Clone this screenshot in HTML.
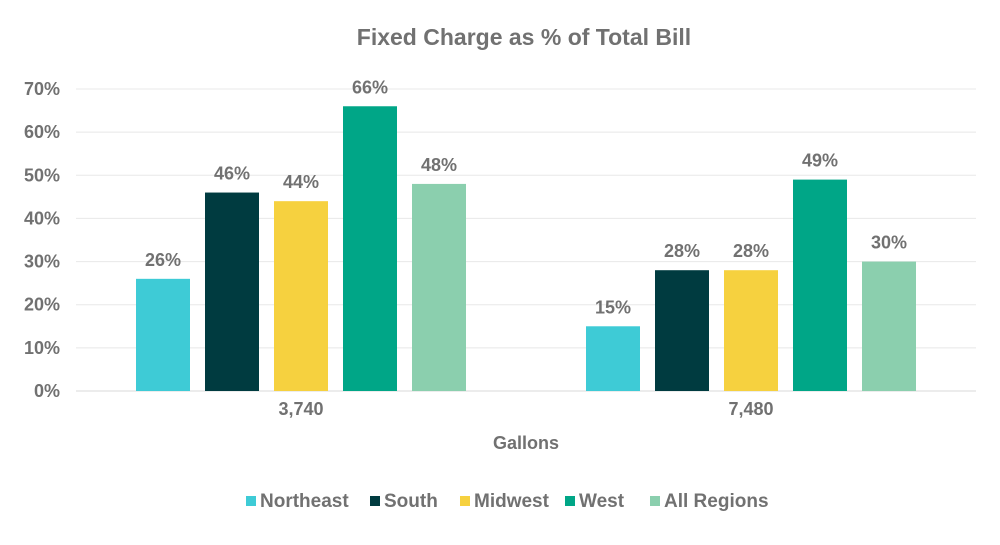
<!DOCTYPE html>
<html><head><meta charset="utf-8"><style>
body{margin:0;background:#fff;}
svg text{font-family:"Liberation Sans",Arial,sans-serif;font-weight:bold;fill:#717171;}
</style></head><body>
<svg id="chart" width="1000" height="540" xmlns="http://www.w3.org/2000/svg">
<text x="524" y="45" font-size="23" text-anchor="middle">Fixed Charge as % of Total Bill</text>
<g id="grid"></g><g id="bars"></g><g id="labels"></g>
<text x="526" y="449" font-size="18" text-anchor="middle">Gallons</text>
<g id="legend"></g>
</svg>
<script>
const categories=["3,740","7,480"];
const seriesNames=["Northeast","South","Midwest","West","All Regions"];
const northeast=[26,15];
const south=[46,28];
const midwest=[44,28];
const west=[66,49];
const allRegions=[48,30];
const yTicks=[0,10,20,30,40,50,60,70];
const series=[northeast,south,midwest,west,allRegions];
const colors=["#3ecbd6","#003b40","#f6d13f","#00a687","#8bcfae"];
const NS="http://www.w3.org/2000/svg";
const x0=76,x1=976,yBase=391,yTop=89;
const y=v=>yBase-(v/70)*(yBase-yTop);
const bw=(x1-x0)/categories.length;
function mk(t,a,p){const e=document.createElementNS(NS,t);for(const k in a)e.setAttribute(k,a[k]);p.appendChild(e);return e;}
const grid=document.getElementById('grid');
yTicks.forEach(t=>{
 const l=mk('line',{x1:x0,x2:x1,y1:y(t),y2:y(t),stroke:t===0?'#d9d9d9':'#e8e8e8','stroke-width':1},grid);
 
 
 const tx=mk('text',{x:60,y:y(t)+6,'font-size':18,'text-anchor':'end'},grid);
 tx.textContent=t+'%';
 
 
});
const bars=document.getElementById('bars'),labels=document.getElementById('labels');
categories.forEach((c,i)=>{
 const cx=x0+bw*(i+0.5);
 const ct=mk('text',{x:cx,y:415,'font-size':18,'text-anchor':'middle'},labels);
 ct.textContent=c;
 
 
 series.forEach((s,j)=>{
  const bx=cx+(j-2)*69-27;
  const r=mk('rect',{x:bx,y:y(s[i]),width:54,height:yBase-y(s[i]),fill:colors[j]},bars);
  
  
  const t=mk('text',{x:bx+27,y:y(s[i])-13,'font-size':18,'text-anchor':'middle'},labels);
  t.textContent=s[i]+'%';
  
  
 });
});
const leg=document.getElementById('legend');
const lx=[246,370,460,565,650];
seriesNames.forEach((n,j)=>{
 const g=mk('g',{},leg);
 
 
 mk('rect',{x:lx[j],y:496,width:10,height:10,fill:colors[j]},g);
 const t=mk('text',{x:lx[j]+14,y:507,'font-size':19},g);
 t.textContent=n;
});
</script>
</body></html>
